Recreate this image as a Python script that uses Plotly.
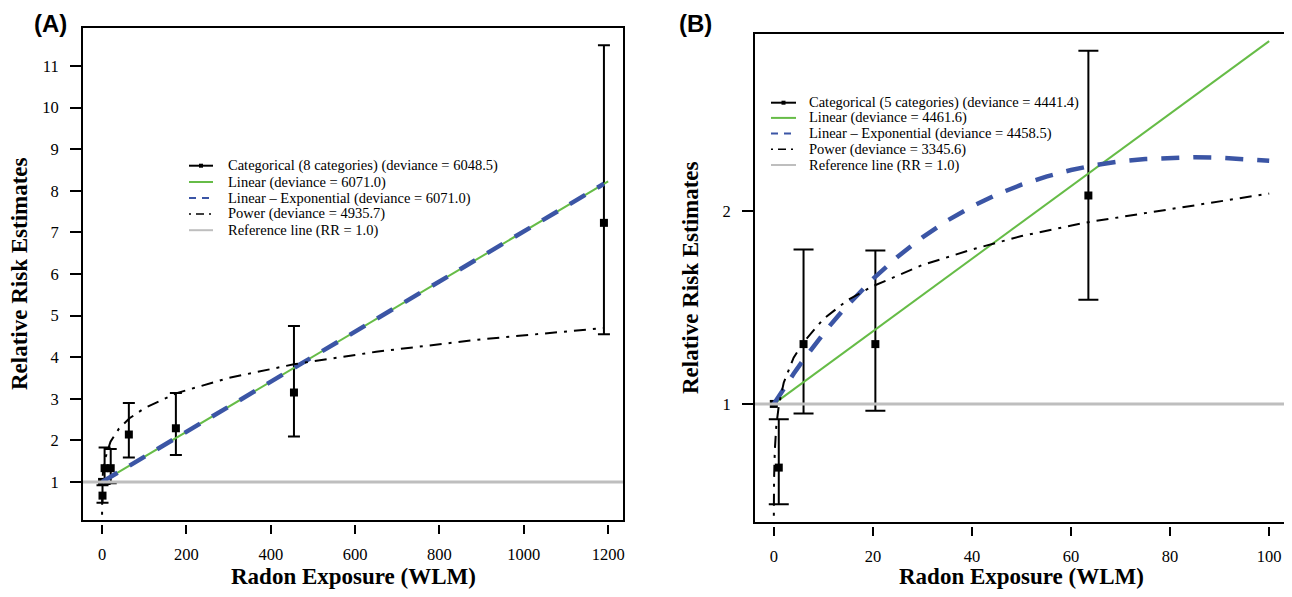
import plotly.graph_objects as go

# The page body has an 8px margin, so the figure is drawn 8px in from the top-left.
OFF = 8
W, H = 1292 - OFF, 597 - 2 * OFF

# ---------------- Panel A data (x = WLM, RR) ----------------
a_cat_x = [0, 1, 6, 20.5, 63.5, 175, 455, 1190]
a_cat_rr = [1.0, 0.67, 1.33, 1.33, 2.14, 2.29, 3.15, 7.23]
a_cat_lo = [None, 0.50, 0.95, 0.97, 1.59, 1.65, 2.09, 4.55]
a_cat_hi = [None, 0.92, 1.83, 1.79, 2.90, 3.14, 4.75, 11.5]

a_lin_x = [0, 1200]
a_lin_rr = [1.0, 8.23]

a_lexp_x = [0, 600, 1190]
a_lexp_rr = [1.0, 4.61, 8.17]

a_pow_x = [0.0005, 0.005, 0.05, 0.5, 2, 6, 20, 40, 65, 100, 175, 300, 455, 650, 900, 1190]
a_pow_rr = [0.21, 0.34, 0.55, 0.90, 1.21, 1.52, 1.97, 2.28, 2.53, 2.77, 3.13, 3.50, 3.83, 4.13, 4.43, 4.70]

a_legend = ["Categorical (8 categories) (deviance = 6048.5)",
            "Linear (deviance = 6071.0)",
            "Linear \u2013 Exponential (deviance = 6071.0)",
            "Power (deviance = 4935.7)",
            "Reference line (RR = 1.0)"]
a_xticks = [0, 200, 400, 600, 800, 1000, 1200]
a_yticks = [1, 2, 3, 4, 5, 6, 7, 8, 9, 10, 11]

# ---------------- Panel B data ----------------
b_cat_x = [0, 1, 6, 20.5, 63.5]
b_cat_rr = [1.0, 0.67, 1.31, 1.31, 2.08]
b_cat_lo = [None, 0.48, 0.95, 0.965, 1.54]
b_cat_hi = [None, 0.92, 1.80, 1.795, 2.83]

b_lin_x = [0, 100]
b_lin_rr = [1.0, 2.88]

b_lexp_x = [0, 2, 4, 6, 8, 11, 14, 17, 20, 25, 30, 35, 40, 45, 50, 55, 60, 65, 70, 75, 80, 85, 90, 95, 100]
b_lexp_rr = [1.0, 1.08, 1.156, 1.229, 1.298, 1.396, 1.487, 1.570, 1.648, 1.763, 1.863, 1.950, 2.023,
             2.085, 2.136, 2.178, 2.212, 2.238, 2.257, 2.269, 2.276, 2.278, 2.276, 2.270, 2.260]

b_pow_x = [0.005, 0.01, 0.05, 0.2, 0.5, 1, 2, 4, 6, 10, 15, 20, 30, 40, 50, 63, 80, 100]
b_pow_rr = [0.42, 0.47, 0.61, 0.76, 0.885, 0.99, 1.11, 1.24, 1.32, 1.44, 1.54, 1.61, 1.72, 1.80,
            1.87, 1.94, 2.01, 2.09]

b_legend = ["Categorical (5 categories) (deviance = 4441.4)",
            "Linear (deviance = 4461.6)",
            "Linear \u2013 Exponential (deviance = 4458.5)",
            "Power (deviance = 3345.6)",
            "Reference line (RR = 1.0)"]
b_xticks = [0, 20, 40, 60, 80, 100]
b_yticks = [1, 2]

ref_rr = 1.0

# ---------------- styles ----------------
GREEN = "#66BC47"
BLUE = "#3B55A5"
GRAY = "#BEBEBE"
SERIF = "Liberation Serif"
SANS = "Liberation Sans"


def px(x):
    return (x - OFF) / W


def py(y):
    return 1 - (y - OFF) / H


fig = go.Figure()

panels = [
    dict(xa="x", ya="y", cat=(a_cat_x, a_cat_rr, a_cat_lo, a_cat_hi), lin=(a_lin_x, a_lin_rr),
         lexp=(a_lexp_x, a_lexp_rr), pow=(a_pow_x, a_pow_rr), capw=6),
    dict(xa="x2", ya="y2", cat=(b_cat_x, b_cat_rr, b_cat_lo, b_cat_hi), lin=(b_lin_x, b_lin_rr),
         lexp=(b_lexp_x, b_lexp_rr), pow=(b_pow_x, b_pow_rr), capw=10),
]

for p in panels:
    cx, crr, clo, chi = p["cat"]
    ex = [x for x, lo in zip(cx, clo) if lo is not None]
    er = [r for r, lo in zip(crr, clo) if lo is not None]
    eplus = [h - r for r, lo, h in zip(crr, clo, chi) if lo is not None]
    eminus = [r - lo for r, lo in zip(crr, clo) if lo is not None]
    fig.add_trace(go.Scatter(
        x=ex, y=er, mode="markers", xaxis=p["xa"], yaxis=p["ya"], showlegend=False,
        marker=dict(symbol="square", size=8, color="black"),
        error_y=dict(type="data", symmetric=False, array=eplus, arrayminus=eminus,
                     color="black", thickness=2, width=p["capw"])))
    rx = [x for x, lo in zip(cx, clo) if lo is None]
    rr = [r for r, lo in zip(crr, clo) if lo is None]
    fig.add_trace(go.Scatter(x=rx, y=rr, mode="markers", xaxis=p["xa"], yaxis=p["ya"],
                             showlegend=False, marker=dict(symbol="square", size=8, color="black")))
    fig.add_trace(go.Scatter(x=p["lin"][0], y=p["lin"][1], mode="lines", xaxis=p["xa"], yaxis=p["ya"],
                             showlegend=False, line=dict(color=GREEN, width=2)))
    fig.add_trace(go.Scatter(x=p["lexp"][0], y=p["lexp"][1], mode="lines", xaxis=p["xa"], yaxis=p["ya"],
                             showlegend=False, line=dict(color=BLUE, width=4.5, dash="18px,14px")))
    fig.add_trace(go.Scatter(x=p["pow"][0], y=p["pow"][1], mode="lines", xaxis=p["xa"], yaxis=p["ya"],
                             showlegend=False, line=dict(color="black", width=2, dash="3px,7px,12px,7px")))

shapes = []
annotations = []

# reference lines and boxes
for xa, ya in [("x", "y"), ("x2", "y2")]:
    shapes.append(dict(type="line", xref=xa + " domain", yref=ya, x0=0, x1=1, y0=ref_rr, y1=ref_rr,
                       line=dict(color=GRAY, width=3), layer="above"))
    shapes.append(dict(type="rect", xref=xa + " domain", yref=ya + " domain", x0=0, x1=1, y0=0, y1=1,
                       line=dict(color="black", width=2), layer="above"))

# manual legends
legend_specs = [
    (a_legend, 189, 213, 226, [165.7, 182.0, 198.0, 214.0, 230.2]),
    (b_legend, 771, 796, 807, [102.7, 117.9, 133.5, 149.3, 165.0]),
]
for texts, lx0, lx1, tx, rows in legend_specs:
    styles = [dict(color="black", width=2),
              dict(color=GREEN, width=2),
              dict(color=BLUE, width=2, dash="7px,6px"),
              dict(color="black", width=1.5, dash="2px,5px,8px,5px"),
              dict(color=GRAY, width=2)]
    for t, yy, st in zip(texts, rows, styles):
        shapes.append(dict(type="line", xref="paper", yref="paper", x0=px(lx0), x1=px(lx1),
                           y0=py(yy), y1=py(yy), line=st))
        annotations.append(dict(text=t, xref="paper", yref="paper", x=px(tx), y=py(yy),
                                xanchor="left", yanchor="middle", showarrow=False,
                                font=dict(family=SERIF, size=14.5, color="black")))
    cxm = (lx0 + lx1) / 2
    shapes.append(dict(type="rect", xref="paper", yref="paper", x0=px(cxm - 2), x1=px(cxm + 2),
                       y0=py(rows[0] + 2), y1=py(rows[0] - 2), fillcolor="black",
                       line=dict(width=0)))

# axis titles and panel labels
for cx, ylab_x, ylab_y, lab, lab_x in [(353, 20, 274, "(A)", 32), (1021.5, 690, 278, "(B)", 677)]:
    annotations.append(dict(text="<b>Radon Exposure (WLM)</b>", xref="paper", yref="paper",
                            x=px(cx), y=py(576), xanchor="center", yanchor="middle", showarrow=False,
                            borderpad=0, font=dict(family=SERIF, size=23, color="black")))
    annotations.append(dict(text="<b>Relative Risk Estimates</b>", xref="paper", yref="paper",
                            x=px(ylab_x), y=py(ylab_y), xanchor="center", yanchor="middle",
                            textangle=-90, showarrow=False,
                            font=dict(family=SERIF, size=23, color="black")))
    annotations.append(dict(text="<b>" + lab + "</b>", xref="paper", yref="paper",
                            x=px(lab_x), y=py(23), xanchor="left", yanchor="middle", showarrow=False,
                            font=dict(family=SANS, size=24, color="black")))

tickfont = dict(family=SERIF, size=16.5, color="black")
common_x = dict(showgrid=False, zeroline=False, showline=False, ticks="outside", ticklen=9,
                tickwidth=2, tickcolor="black", tickfont=tickfont, tickmode="array",
                ticklabelstandoff=6)
common_y = dict(showgrid=False, zeroline=False, showline=False, ticks="outside", ticklen=11,
                tickwidth=2, tickcolor="black", tickfont=tickfont, tickmode="array",
                ticklabelstandoff=8)

fig.update_layout(
    width=W, height=H,
    margin=dict(l=0, r=0, t=0, b=0),
    paper_bgcolor="white", plot_bgcolor="white",
    showlegend=False,
    xaxis=dict(domain=[px(82), px(624)], range=[-47.6, 1237.6], anchor="free", position=py(524),
               tickvals=a_xticks, ticktext=[str(v) for v in a_xticks], **common_x),
    yaxis=dict(domain=[py(521), py(27)], range=[0.06, 11.94], anchor="x",
               tickvals=a_yticks, ticktext=[str(v) for v in a_yticks], **common_y),
    xaxis2=dict(domain=[px(754), px(1289)], range=[-4, 104], anchor="free", position=py(526),
                tickvals=b_xticks, ticktext=[str(v) for v in b_xticks], **common_x),
    yaxis2=dict(domain=[py(523), py(33)], range=[0.383, 2.922], anchor="x2",
                tickvals=b_yticks, ticktext=[str(v) for v in b_yticks], **common_y),
    shapes=shapes,
    annotations=annotations,
)

fig.write_html("out.html")
